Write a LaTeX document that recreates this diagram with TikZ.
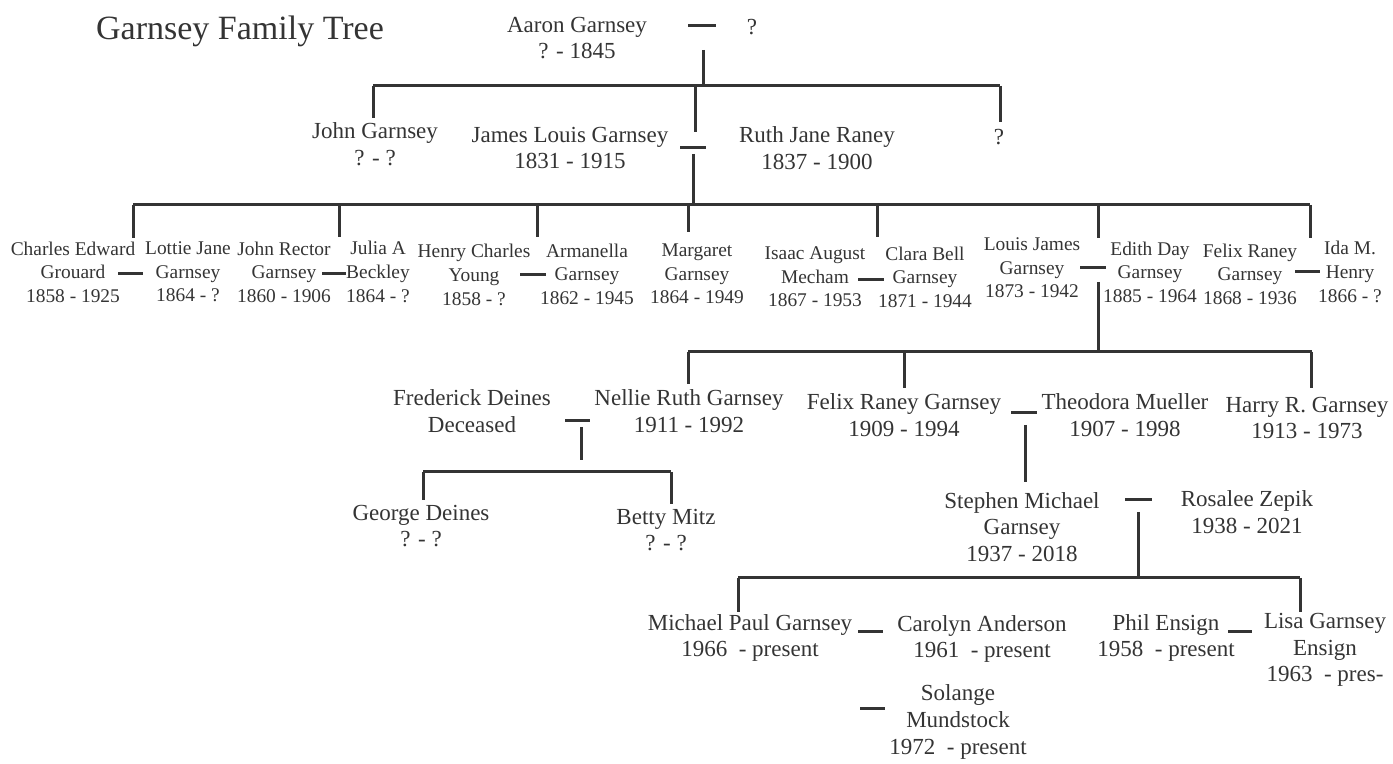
\documentclass[tikz,border=0pt]{standalone}
\usepackage{fontspec}
\setmainfont{Liberation Serif}
\definecolor{ink}{RGB}{52,52,52}
\tikzset{
  person/.style={align=center, inner sep=0pt, text=ink, font=\fontsize{11.5}{13.4}\selectfont},
  small/.style={person, font=\fontsize{9.7}{11.8}\selectfont},
  link/.style={draw=ink, line width=1.5pt},
}
\begin{document}
\begin{tikzpicture}[x=0.5pt,y=-0.5pt]
\useasboundingbox (0,0) rectangle (1393,764);
% title
\node[person, font=\fontsize{17}{20}\selectfont] (title) at (240,31) {Garnsey Family Tree};
% generation 1
\node[person] (aaron) at (577,38) {Aaron Garnsey\\? - 1845};
\node[person] (aaronw) at (752,27) {?};
\coordinate (am1) at (688,26); \coordinate (am2) at (716,26);
\coordinate (ad1) at (703,50); \coordinate (ad2) at (703,86);
\coordinate (b1l) at (373,86); \coordinate (b1r) at (1000,86);
\coordinate (b1j) at (695,86);
\coordinate (johnt) at (373,118); \coordinate (jamest) at (695,132); \coordinate (unkt) at (1000,122);
% generation 2
\node[person] (john) at (375,144) {John Garnsey\\? - ?};
\node[person] (james) at (570,148) {James Louis Garnsey\\1831 - 1915};
\node[person] (ruth) at (817,148) {Ruth Jane Raney\\1837 - 1900};
\node[person] (unk) at (999,137) {?};
\coordinate (jm1) at (680,148); \coordinate (jm2) at (706,148);
\coordinate (jd1) at (693,154); \coordinate (jd2) at (693,205);
\coordinate (b2l) at (133,205); \coordinate (b2r) at (1310,205);
\coordinate (c1b) at (133,205); \coordinate (c1) at (133,238);
\coordinate (c2b) at (339,205); \coordinate (c2) at (339,237);
\coordinate (c3b) at (537,205); \coordinate (c3) at (537,237);
\coordinate (c4b) at (688,205); \coordinate (c4) at (688,232);
\coordinate (c5b) at (877,205); \coordinate (c5) at (877,237);
\coordinate (c6b) at (1098,205); \coordinate (c6) at (1098,238);
\coordinate (c7b) at (1310,205); \coordinate (c7) at (1310,238);
% generation 3
\node[small] (charles) at (73,272) {Charles Edward\\Grouard\\1858 - 1925};
\node[small] (lottie) at (188,272) {Lottie Jane\\Garnsey\\1864 - ?};
\node[small] (johnr) at (284,272) {John Rector\\Garnsey\\1860 - 1906};
\node[small] (julia) at (378,272) {Julia A\\Beckley\\1864 - ?};
\node[small] (henry) at (474,275) {Henry Charles\\Young\\1858 - ?};
\node[small] (armanella) at (587,274) {Armanella\\Garnsey\\1862 - 1945};
\node[small] (margaret) at (697,274) {Margaret\\Garnsey\\1864 - 1949};
\node[small] (isaac) at (815,277) {Isaac August\\Mecham\\1867 - 1953};
\node[small] (clara) at (925,277) {Clara Bell\\Garnsey\\1871 - 1944};
\node[small] (louis) at (1032,268) {Louis James\\Garnsey\\1873 - 1942};
\node[small] (edith) at (1150,272) {Edith Day\\Garnsey\\1885 - 1964};
\node[small] (felix) at (1250,274) {Felix Raney\\Garnsey\\1868 - 1936};
\node[small] (ida) at (1350,272) {Ida M.\\Henry\\1866 - ?};
\coordinate (m1a) at (118,274); \coordinate (m1b) at (143,274);
\coordinate (m2a) at (322,274); \coordinate (m2b) at (346,274);
\coordinate (m3a) at (520,275); \coordinate (m3b) at (546,275);
\coordinate (m4a) at (858,280); \coordinate (m4b) at (884,280);
\coordinate (m5a) at (1080,268); \coordinate (m5b) at (1106,268);
\coordinate (m6a) at (1295,272); \coordinate (m6b) at (1320,272);
\coordinate (ld1) at (1098,282); \coordinate (ld2) at (1098,352);
\coordinate (b3l) at (688,352); \coordinate (b3r) at (1312,352);
\coordinate (d1b) at (688,352); \coordinate (d1) at (688,384);
\coordinate (d2b) at (904,352); \coordinate (d2) at (904,388);
\coordinate (d3b) at (1311,352); \coordinate (d3) at (1311,388);
% generation 4
\node[person] (frederick) at (472,411) {Frederick Deines\\Deceased};
\node[person] (nellie) at (689,411) {Nellie Ruth Garnsey\\1911 - 1992};
\node[person] (felixr) at (904,415) {Felix Raney Garnsey\\1909 - 1994};
\node[person] (theodora) at (1125,415) {Theodora Mueller\\1907 - 1998};
\node[person] (harry) at (1307,418) {Harry R. Garnsey\\1913 - 1973};
\coordinate (n1a) at (565,421); \coordinate (n1b) at (590,421);
\coordinate (nd1) at (581,427); \coordinate (nd2) at (581,460);
\coordinate (b4l) at (423,472); \coordinate (b4r) at (671,472);
\coordinate (g1) at (423,500); \coordinate (g2) at (671,504);
\coordinate (f1a) at (1011,413); \coordinate (f1b) at (1037,413);
\coordinate (fd1) at (1025,425); \coordinate (fd2) at (1025,482);
% generation 5
\node[person] (george) at (421,526) {George Deines\\? - ?};
\node[person] (betty) at (666,530) {Betty Mitz\\? - ?};
\node[person] (stephen) at (1022,527) {Stephen Michael\\Garnsey\\1937 - 2018};
\node[person] (rosalee) at (1247,512) {Rosalee Zepik\\1938 - 2021};
\coordinate (s1a) at (1125,500); \coordinate (s1b) at (1152,500);
\coordinate (sd1) at (1138,512); \coordinate (sd2) at (1138,578);
\coordinate (b5l) at (738,578); \coordinate (b5r) at (1300,578);
\coordinate (e1) at (738,612); \coordinate (e2) at (1300,612);
% generation 6
\node[person] (michael) at (750,638) {Michael Paul Garnsey\\1966\ \ - present};
\node[person] (carolyn) at (982,639) {Carolyn Anderson\\1961\ \ - present};
\node[person] (phil) at (1166,638) {Phil Ensign\\1958\ \ - present};
\node[person] (lisa) at (1325,650) {Lisa Garnsey\\Ensign\\1963\ \ - pres-};
\node[person] (solange) at (958,722) {Solange\\Mundstock\\1972\ \ - present};
\coordinate (p1a) at (858,631); \coordinate (p1b) at (883,631);
\coordinate (p2a) at (1228,631); \coordinate (p2b) at (1252,631);
\coordinate (p3a) at (860,708); \coordinate (p3b) at (885,708);
% connectors
\draw[link] (am1) -- (am2);
\draw[link] (ad1) -- (ad2);
\draw[link] (b1l) -- (b1r);
\draw[link] (b1l) -- (johnt);
\draw[link] (b1j) -- (jamest);
\draw[link] (b1r) -- (unkt);
\draw[link] (jm1) -- (jm2);
\draw[link] (jd1) -- (jd2);
\draw[link] (b2l) -- (b2r);
\draw[link] (c1b) -- (c1);
\draw[link] (c2b) -- (c2);
\draw[link] (c3b) -- (c3);
\draw[link] (c4b) -- (c4);
\draw[link] (c5b) -- (c5);
\draw[link] (c6b) -- (c6);
\draw[link] (c7b) -- (c7);
\draw[link] (m1a) -- (m1b);
\draw[link] (m2a) -- (m2b);
\draw[link] (m3a) -- (m3b);
\draw[link] (m4a) -- (m4b);
\draw[link] (m5a) -- (m5b);
\draw[link] (m6a) -- (m6b);
\draw[link] (ld1) -- (ld2);
\draw[link] (b3l) -- (b3r);
\draw[link] (d1b) -- (d1);
\draw[link] (d2b) -- (d2);
\draw[link] (d3b) -- (d3);
\draw[link] (n1a) -- (n1b);
\draw[link] (nd1) -- (nd2);
\draw[link] (b4l) -- (b4r);
\draw[link] (b4l) -- (g1);
\draw[link] (b4r) -- (g2);
\draw[link] (f1a) -- (f1b);
\draw[link] (fd1) -- (fd2);
\draw[link] (s1a) -- (s1b);
\draw[link] (sd1) -- (sd2);
\draw[link] (b5l) -- (b5r);
\draw[link] (b5l) -- (e1);
\draw[link] (b5r) -- (e2);
\draw[link] (p1a) -- (p1b);
\draw[link] (p2a) -- (p2b);
\draw[link] (p3a) -- (p3b);
\end{tikzpicture}
\end{document}
